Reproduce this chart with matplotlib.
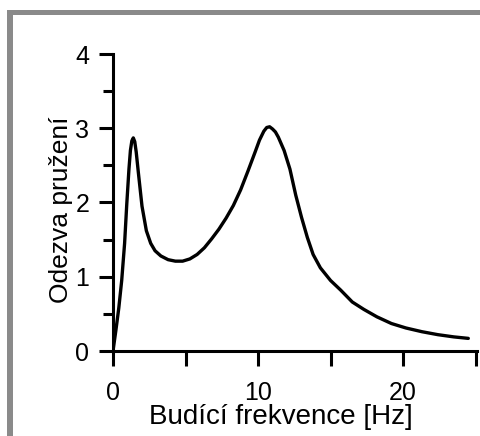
import matplotlib
matplotlib.use("Agg")
import matplotlib.pyplot as plt
from matplotlib.patches import Rectangle
from matplotlib.ticker import MultipleLocator

# values
freq = [0, 0.2, 0.4, 0.6, 0.8, 0.95, 1.1, 1.2, 1.3, 1.4, 1.5, 1.6, 1.75, 2.0,
        2.3, 2.6, 2.9, 3.3, 3.8, 4.3, 4.8, 5.3, 5.8, 6.3, 6.8, 7.3, 7.8, 8.3,
        8.8, 9.3, 9.8, 10.1, 10.4, 10.6, 10.8, 11.0, 11.2, 11.4, 11.8, 12.2,
        12.6, 13.0, 13.4, 13.8, 14.3, 15.0, 15.7, 16.5, 17.3, 18.2, 19.2,
        20.2, 21.3, 22.4, 23.5, 24.5]
response = [0, 0.28, 0.58, 0.95, 1.45, 1.98, 2.45, 2.70, 2.83, 2.87, 2.82, 2.68,
            2.40, 1.95, 1.62, 1.45, 1.35, 1.28, 1.23, 1.21, 1.21, 1.24, 1.30,
            1.39, 1.51, 1.64, 1.79, 1.96, 2.17, 2.42, 2.68, 2.84, 2.96, 3.01,
            3.02, 2.99, 2.95, 2.88, 2.70, 2.45, 2.10, 1.80, 1.53, 1.30, 1.12,
            0.95, 0.82, 0.66, 0.56, 0.46, 0.37, 0.31, 0.26, 0.22, 0.19, 0.17]
x_ticks = [0, 10, 20]
y_ticks = [0, 1, 2, 3, 4]

plt.rcParams["font.family"] = ["Liberation Sans", "DejaVu Sans"]

fig = plt.figure(figsize=(4.81, 4.36), dpi=100)
W, H = 481, 436

# grey frame (top and left edge only)
fig.patches.append(Rectangle((7 / W, 1 - 15.5 / H), 1, 5.5 / H, transform=fig.transFigure,
                             facecolor="#8a8a8a", edgecolor="none"))
fig.patches.append(Rectangle((7 / W, 0), 6 / W, 1 - 10 / H, transform=fig.transFigure,
                             facecolor="#8a8a8a", edgecolor="none"))

ax = fig.add_axes([113 / W, 1 - 351 / H, 364 / W, 297 / H])
ax.plot(freq, response, color="black", linewidth=2.4,
        solid_joinstyle="round", solid_capstyle="round")

ax.set_xlim(0, 25.1)
ax.set_ylim(0, 4)
ax.set_xticks(x_ticks)
ax.set_yticks(y_ticks)
ax.xaxis.set_minor_locator(MultipleLocator(5))
ax.yaxis.set_minor_locator(MultipleLocator(0.5))

for side in ["top", "right"]:
    ax.spines[side].set_visible(False)
for side in ["left", "bottom"]:
    ax.spines[side].set_linewidth(2.2)

ax.tick_params(axis="both", which="both", direction="out", width=2.2, labelsize=18)
ax.tick_params(axis="y", which="major", length=10, pad=7)
ax.tick_params(axis="y", which="minor", length=7)
ax.tick_params(axis="x", which="both", length=10.5, pad=11)

ax.set_xlabel("Budící frekvence [Hz]", fontsize=20)
ax.xaxis.set_label_coords(0.4615, -0.178)
ax.set_ylabel("Odezva pružení", fontsize=19, labelpad=2)
ax.yaxis.label.set_y(0.475)

fig.savefig("out.png", dpi=100)
